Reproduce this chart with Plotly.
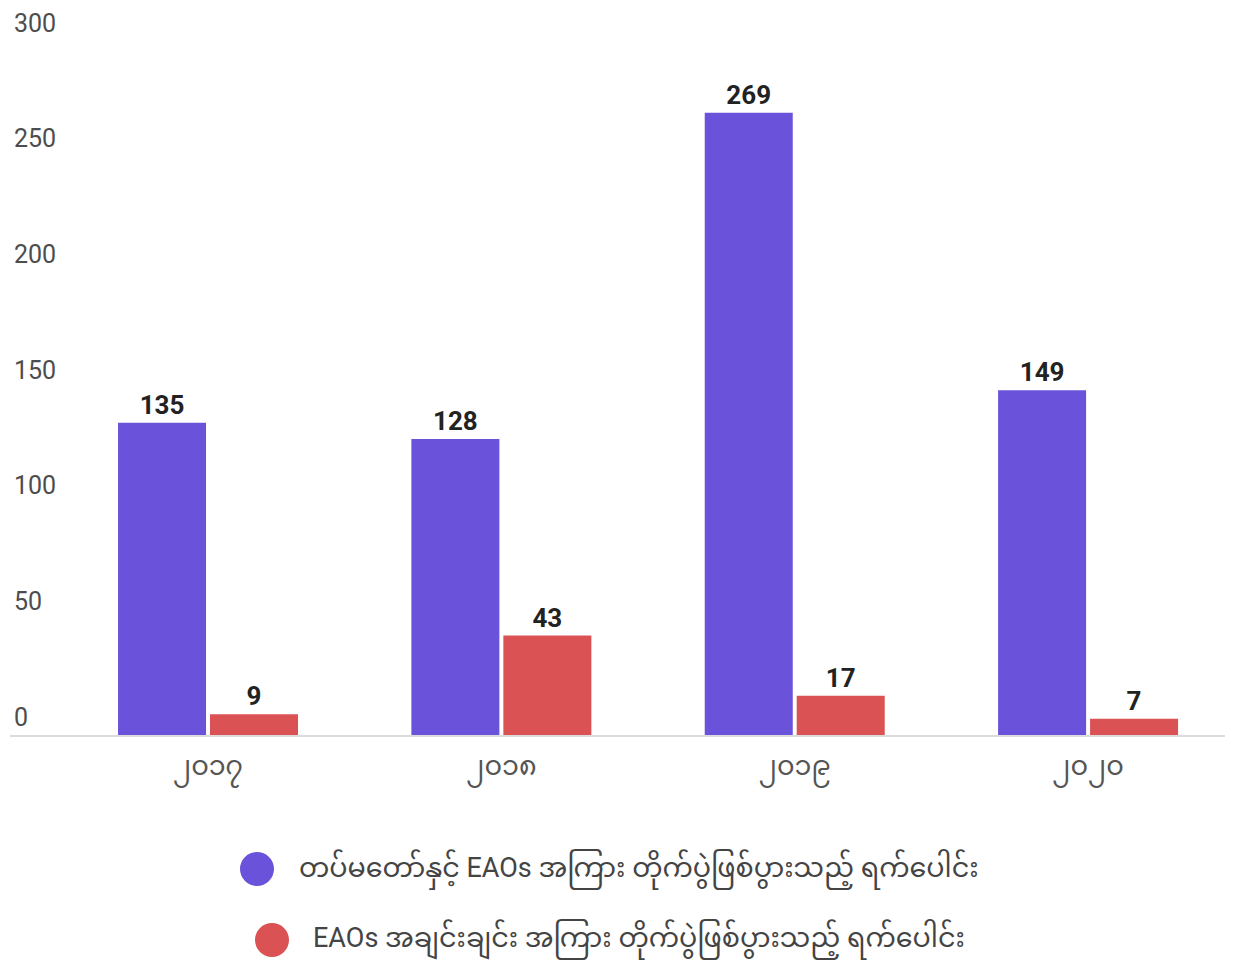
import plotly.graph_objects as go

years = ["၂၀၁၇", "၂၀၁၈", "၂၀၁၉", "၂၀၂၀"]
series_names = [
    "တပ်မတော်နှင့် EAOs အကြား တိုက်ပွဲဖြစ်ပွားသည့် ရက်ပေါင်း",
    "EAOs အချင်းချင်း အကြား တိုက်ပွဲဖြစ်ပွားသည့် ရက်ပေါင်း",
]
army_vs_eao = [135, 128, 269, 149]
eao_vs_eao = [9, 43, 17, 7]
colors = ["#6a52db", "#db5254"]
y_ticks = [0, 50, 100, 150, 200, 250, 300]

FONT = "Roboto, 'Noto Sans Myanmar', 'Noto Sans', sans-serif"

# page is rendered with an 8px body margin; place everything 8px up/left
OFF = 8
BASE = 735 - OFF          # figure y of the zero line
SCALE = 694 / 300         # px per unit
T = 2
YMAX = (BASE - T) / SCALE
PLOT_H = BASE - T
L = 10 - OFF
PLOT_W = 1223

fig = go.Figure()
for name, vals, col in zip(series_names, [army_vs_eao, eao_vs_eao], colors):
    fig.add_trace(go.Bar(
        x=years, y=vals, name=name, marker=dict(color=col, line=dict(width=0)),
        text=[str(v) for v in vals], textposition="outside",
        textfont=dict(family=FONT, size=26, color="#222222", weight="bold"),
        cliponaxis=False, showlegend=False,
    ))

fig.update_layout(
    width=1233, height=960,
    margin=dict(l=L, r=1233 - L - PLOT_W, t=T, b=960 - BASE),
    paper_bgcolor="white", plot_bgcolor="white",
    barmode="group", bargap=0.373, bargroupgap=0.043,
    font=dict(family=FONT, color="#555555"),
    xaxis=dict(
        type="category", range=[-0.675, 3.494],
        showgrid=False, showline=True, linecolor="#dcdcdc", linewidth=2,
        ticks="", tickfont=dict(size=27, color="#555555"), ticklabelstandoff=6,
    ),
    yaxis=dict(
        range=[0, YMAX], tickvals=y_ticks, showgrid=False, zeroline=False,
        showticklabels=False, showline=False, ticks="",
    ),
)

# y tick labels sit just above their (invisible) grid lines
for v in y_ticks:
    fig.add_annotation(xref="paper", yref="y", x=0.002, y=v, yshift=18,
                       xanchor="left", yanchor="middle", showarrow=False,
                       text=str(v), font=dict(family=FONT, size=25, color="#4d4d4d"))

# manual legend (large circular markers, each row centred)
legend_rows = [(869, 257, 297), (940, 272, 311)]
R = 17
for (yc, cx, tx), name, col in zip(legend_rows, series_names, colors):
    fy = yc - OFF
    fig.add_shape(type="circle", xref="paper", yref="paper",
                  x0=(cx - R - 10) / PLOT_W, x1=(cx + R - 10) / PLOT_W,
                  y0=(BASE - fy - R) / PLOT_H, y1=(BASE - fy + R) / PLOT_H,
                  fillcolor=col, line=dict(width=0))
    fig.add_annotation(xref="paper", yref="paper",
                       x=(tx - 10) / PLOT_W, y=(BASE - fy) / PLOT_H,
                       xanchor="left", yanchor="middle", showarrow=False,
                       text=name, font=dict(family=FONT, size=27, color="#444444"))

fig.write_html("out.html")
